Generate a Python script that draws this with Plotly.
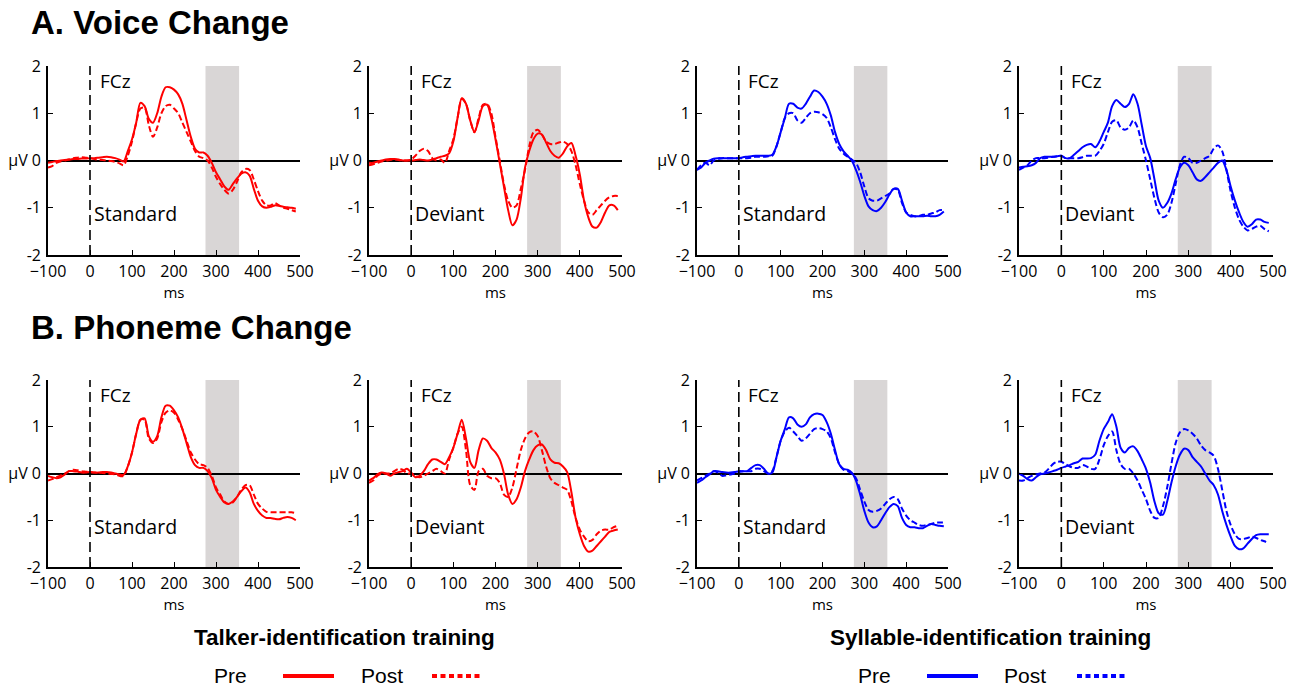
import plotly.graph_objects as go

# ---------------- data ----------------
TIME = list(range(-100, 500, 10))  # ms
SHADE_WINDOW = [275, 355]
X_TICKS = [-100, 0, 100, 200, 300, 400, 500]
Y_TICKS = [-2, -1, 0, 1, 2]
Y_TICK_TEXT = ["-2", "-1", "μV 0", "1", "2"]

# A. Voice change / Talker-identification training / Standard
VT_STD_PRE = [-0.05,-0.03,-0.01,0.0,0.01,0.02,0.03,0.03,0.04,0.04,
              0.05,0.05,0.06,0.07,0.08,0.07,0.05,0.02,-0.02,0.2,
              0.45,0.8,1.22,1.15,0.88,0.8,1.0,1.35,1.55,1.55,
              1.5,1.4,1.2,0.85,0.5,0.25,0.17,0.17,0.1,-0.05,
              -0.25,-0.4,-0.55,-0.62,-0.5,-0.38,-0.28,-0.25,-0.32,-0.6,
              -0.85,-0.97,-1.0,-0.98,-0.95,-0.96,-0.98,-0.99,-1.0,-1.02]
VT_STD_POST = [-0.15,-0.12,-0.05,-0.02,0.0,0.02,0.05,0.06,0.07,0.06,
               0.05,0.03,0.02,0.01,0.0,-0.01,-0.03,-0.06,-0.1,0.1,
               0.4,0.8,1.1,1.12,0.75,0.5,0.7,1.0,1.15,1.18,
               1.1,1.0,0.8,0.6,0.4,0.2,0.08,0.05,0.0,-0.15,
               -0.35,-0.5,-0.62,-0.7,-0.62,-0.45,-0.25,-0.18,-0.2,-0.4,
               -0.65,-0.85,-0.95,-0.95,-0.9,-0.95,-1.0,-1.02,-1.05,-1.08]
# A. Voice change / Talker / Deviant
VT_DEV_PRE = [-0.05,-0.05,-0.02,0.0,0.02,0.03,0.03,0.02,0.0,0.0,
              0.0,0.01,0.02,0.01,0.0,0.02,0.05,0.08,0.1,0.15,
              0.4,0.9,1.32,1.2,0.85,0.6,0.85,1.15,1.18,0.9,
              0.45,-0.05,-0.55,-1.05,-1.37,-1.25,-0.8,-0.15,0.2,0.45,
              0.57,0.55,0.38,0.2,0.1,0.06,0.15,0.3,0.37,0.1,
              -0.3,-0.85,-1.2,-1.4,-1.42,-1.3,-1.1,-0.95,-0.95,-1.05]
VT_DEV_POST = [-0.1,-0.08,-0.05,-0.02,0.0,0.01,0.02,0.01,0.0,0.0,
               0.02,0.1,0.2,0.25,0.2,0.05,0.0,0.02,-0.05,0.2,
               0.45,0.9,1.3,1.2,0.85,0.6,0.9,1.18,1.2,1.0,
               0.5,0.0,-0.5,-0.85,-1.0,-0.95,-0.6,-0.2,0.3,0.6,
               0.65,0.55,0.4,0.35,0.35,0.38,0.4,0.35,0.2,-0.1,
               -0.5,-0.85,-1.1,-1.15,-1.05,-0.95,-0.85,-0.78,-0.75,-0.75]
# A. Voice change / Syllable-identification training / Standard
VS_STD_PRE = [-0.2,-0.15,-0.05,0.0,0.04,0.05,0.05,0.05,0.05,0.05,
              0.05,0.07,0.08,0.09,0.1,0.1,0.1,0.1,0.12,0.3,
              0.6,0.9,1.2,1.2,1.12,1.1,1.2,1.35,1.48,1.45,
              1.35,1.2,0.95,0.6,0.35,0.2,0.1,0.0,-0.2,-0.45,
              -0.75,-0.97,-1.05,-1.07,-1.0,-0.88,-0.72,-0.6,-0.6,-0.85,
              -1.1,-1.18,-1.18,-1.18,-1.18,-1.17,-1.18,-1.18,-1.15,-1.08]
VS_STD_POST = [-0.2,-0.1,-0.05,-0.1,0.0,0.03,0.05,0.05,0.05,0.05,
               0.05,0.05,0.05,0.06,0.08,0.08,0.08,0.09,0.1,0.3,
               0.6,0.9,1.0,1.0,0.85,0.8,0.9,1.0,1.03,1.02,
               0.98,0.9,0.7,0.45,0.25,0.15,0.08,0.02,-0.05,-0.25,
               -0.55,-0.8,-0.85,-0.85,-0.8,-0.75,-0.7,-0.6,-0.62,-0.9,
               -1.1,-1.15,-1.18,-1.18,-1.15,-1.15,-1.12,-1.1,-1.05,-1.05]
# A. Voice change / Syllable / Deviant
VS_DEV_PRE = [-0.15,-0.13,-0.12,-0.1,-0.05,0.05,0.08,0.08,0.08,0.09,
              0.1,0.05,0.05,0.12,0.2,0.28,0.33,0.35,0.28,0.4,
              0.6,0.8,1.15,1.28,1.2,1.13,1.2,1.4,1.2,0.75,
              0.3,0.05,-0.4,-0.85,-1.0,-0.9,-0.7,-0.4,-0.15,-0.05,
              -0.1,-0.25,-0.4,-0.43,-0.35,-0.25,-0.15,-0.05,0.0,-0.2,
              -0.55,-0.85,-1.1,-1.3,-1.4,-1.35,-1.25,-1.25,-1.3,-1.32]
VS_DEV_POST = [-0.2,-0.15,-0.1,0.0,0.05,0.05,0.05,0.06,0.08,0.09,
               0.1,0.05,0.05,0.05,0.05,0.07,0.1,0.1,0.1,0.2,
               0.35,0.6,0.82,0.85,0.7,0.65,0.7,0.85,0.7,0.35,
               0.0,-0.4,-0.8,-1.1,-1.2,-1.15,-0.9,-0.5,-0.1,0.08,
               0.05,-0.05,-0.05,0.0,0.05,0.1,0.25,0.32,0.2,-0.2,
               -0.65,-1.0,-1.25,-1.4,-1.48,-1.45,-1.4,-1.38,-1.45,-1.5]
# B. Phoneme change / Talker / Standard
PT_STD_PRE = [-0.05,-0.08,-0.1,-0.08,-0.02,0.05,0.05,0.04,0.02,0.02,
              0.03,0.02,0.02,0.03,0.03,0.02,0.0,-0.02,-0.03,0.15,
              0.45,0.85,1.15,1.18,0.8,0.68,0.8,1.2,1.45,1.45,
              1.35,1.2,0.95,0.65,0.35,0.18,0.12,0.12,0.05,-0.1,
              -0.35,-0.5,-0.62,-0.65,-0.6,-0.5,-0.38,-0.3,-0.4,-0.65,
              -0.8,-0.9,-0.95,-0.95,-0.97,-0.98,-0.95,-0.93,-0.95,-1.0]
PT_STD_POST = [-0.15,-0.12,-0.08,-0.04,0.0,0.05,0.08,0.07,0.05,0.04,
               0.03,0.02,0.02,0.01,0.0,-0.01,-0.02,-0.05,-0.05,0.15,
               0.45,0.85,1.15,1.15,0.75,0.65,0.75,1.1,1.3,1.35,
               1.3,1.15,0.95,0.7,0.45,0.3,0.2,0.18,0.12,-0.05,
               -0.3,-0.45,-0.6,-0.65,-0.62,-0.5,-0.35,-0.25,-0.25,-0.45,
               -0.65,-0.75,-0.82,-0.83,-0.83,-0.83,-0.83,-0.83,-0.83,-0.85]
# B. Phoneme change / Talker / Deviant
PT_DEV_PRE = [-0.15,-0.1,-0.02,0.02,0.0,-0.05,0.0,0.03,0.05,0.1,
              0.02,-0.08,-0.05,0.05,0.2,0.3,0.3,0.25,0.2,0.35,
              0.55,0.85,1.15,0.75,0.25,0.12,0.5,0.75,0.7,0.55,
              0.45,0.3,0.0,-0.45,-0.65,-0.55,-0.3,0.05,0.3,0.5,
              0.6,0.62,0.5,0.3,0.23,0.22,0.15,0.03,-0.4,-0.95,
              -1.3,-1.55,-1.67,-1.65,-1.55,-1.45,-1.35,-1.25,-1.22,-1.2]
PT_DEV_POST = [-0.2,-0.15,-0.05,0.0,0.0,0.0,0.05,0.1,0.08,0.0,
               0.0,-0.05,-0.08,-0.05,0.0,0.05,0.1,0.05,0.0,0.3,
               0.55,0.85,1.0,0.5,-0.25,-0.35,0.05,0.1,-0.05,-0.1,
               -0.1,-0.2,-0.45,-0.5,-0.3,0.1,0.5,0.75,0.88,0.9,
               0.8,0.5,0.15,-0.1,-0.2,-0.25,-0.3,-0.35,-0.6,-0.95,
               -1.2,-1.35,-1.45,-1.42,-1.3,-1.22,-1.2,-1.2,-1.15,-1.12]
# B. Phoneme change / Syllable / Standard
PS_STD_PRE = [-0.2,-0.15,-0.08,-0.02,0.05,0.05,0.03,0.02,0.02,0.03,
              0.05,0.05,0.05,0.12,0.18,0.18,0.1,0.0,0.02,0.35,
              0.7,0.95,1.2,1.18,1.05,1.0,1.05,1.2,1.27,1.28,
              1.25,1.1,0.85,0.5,0.2,0.1,0.08,0.02,-0.15,-0.45,
              -0.8,-1.05,-1.15,-1.13,-1.0,-0.85,-0.72,-0.65,-0.7,-0.95,
              -1.1,-1.15,-1.15,-1.17,-1.17,-1.12,-1.08,-1.1,-1.12,-1.13]
PS_STD_POST = [-0.15,-0.1,-0.05,0.0,0.05,0.02,-0.05,-0.04,-0.02,0.0,
               0.03,0.05,0.05,0.05,0.1,0.1,0.05,0.0,0.05,0.35,
               0.7,0.9,0.98,0.9,0.8,0.7,0.75,0.85,0.95,0.97,
               0.95,0.9,0.75,0.45,0.2,0.08,0.05,0.0,-0.1,-0.35,
               -0.6,-0.78,-0.82,-0.8,-0.75,-0.65,-0.55,-0.5,-0.55,-0.75,
               -0.9,-1.0,-1.05,-1.1,-1.12,-1.1,-1.08,-1.05,-1.05,-1.05]
# B. Phoneme change / Syllable / Deviant
PS_DEV_PRE = [0.0,-0.05,-0.12,-0.15,-0.08,-0.02,0.0,0.02,0.05,0.08,
              0.12,0.15,0.18,0.22,0.25,0.32,0.32,0.33,0.4,0.7,
              0.95,1.1,1.27,1.0,0.55,0.45,0.55,0.58,0.48,0.3,
              0.1,-0.2,-0.6,-0.85,-0.88,-0.6,-0.2,0.15,0.4,0.53,
              0.5,0.35,0.25,0.15,0.0,-0.15,-0.25,-0.45,-0.8,-1.1,
              -1.35,-1.55,-1.62,-1.6,-1.5,-1.4,-1.32,-1.3,-1.3,-1.3]
PS_DEV_POST = [-0.15,-0.15,-0.1,-0.05,-0.02,0.0,0.02,0.1,0.2,0.25,
               0.25,0.2,0.15,0.12,0.12,0.18,0.15,0.1,0.1,0.3,
               0.6,0.8,0.9,0.5,0.2,0.1,0.1,0.0,-0.15,-0.35,
               -0.55,-0.8,-0.95,-0.95,-0.7,-0.3,0.2,0.65,0.88,0.95,
               0.92,0.85,0.75,0.6,0.5,0.45,0.38,0.1,-0.35,-0.8,
               -1.1,-1.3,-1.4,-1.4,-1.38,-1.35,-1.38,-1.42,-1.45,-1.5]

# ---------------- layout helpers ----------------
W, H = 1300, 687
RED, BLUE = "#ff0000", "#0000ff"
FONT = "Open Sans, DejaVu Sans, sans-serif"
TITLE_FONT = "Liberation Sans, Arial, sans-serif"

COLS_PX = [(48, 300), (369, 622), (697, 948), (1019, 1273)]
ROWS_PX = [(66, 255), (380, 567)]

panels = [
    (0, 0, VT_STD_PRE, VT_STD_POST, RED, "Standard"),
    (0, 1, VT_DEV_PRE, VT_DEV_POST, RED, "Deviant"),
    (0, 2, VS_STD_PRE, VS_STD_POST, BLUE, "Standard"),
    (0, 3, VS_DEV_PRE, VS_DEV_POST, BLUE, "Deviant"),
    (1, 0, PT_STD_PRE, PT_STD_POST, RED, "Standard"),
    (1, 1, PT_DEV_PRE, PT_DEV_POST, RED, "Deviant"),
    (1, 2, PS_STD_PRE, PS_STD_POST, BLUE, "Standard"),
    (1, 3, PS_DEV_PRE, PS_DEV_POST, BLUE, "Deviant"),
]

fig = go.Figure()
shapes, annotations = [], []

for i, (r, c, pre, post, color, label) in enumerate(panels):
    n = i + 1
    xa = "x" if n == 1 else f"x{n}"
    ya = "y" if n == 1 else f"y{n}"
    xd = [COLS_PX[c][0] / W, COLS_PX[c][1] / W]
    yd = [1 - ROWS_PX[r][1] / H, 1 - ROWS_PX[r][0] / H]
    axis_common = dict(showline=True, linecolor="black", linewidth=1.6, automargin=False,
                       ticks="inside", ticklen=5, tickwidth=1.3, tickcolor="black",
                       showgrid=False, tickfont=dict(family=FONT, size=16, color="black"))
    fig.update_layout(**{
        ("xaxis" if n == 1 else f"xaxis{n}"): dict(
            domain=xd, range=[-100, 500], anchor=ya, tickvals=X_TICKS,
            zeroline=False, ticklabelstandoff=1,
            title=dict(text="ms", standoff=0,
                       font=dict(family=FONT, size=15, color="black")),
            **axis_common),
        ("yaxis" if n == 1 else f"yaxis{n}"): dict(
            domain=yd, range=[-2, 2], anchor=xa, tickvals=Y_TICKS, ticktext=Y_TICK_TEXT,
            zeroline=True, zerolinecolor="black", zerolinewidth=1.8, ticklabelstandoff=2,
            **axis_common),
    })
    # shaded analysis window
    shapes.append(dict(type="rect", xref=xa, yref=ya, x0=SHADE_WINDOW[0], x1=SHADE_WINDOW[1],
                       y0=-2, y1=2, fillcolor="#d9d6d6", line=dict(width=0), layer="below"))
    # stimulus onset
    shapes.append(dict(type="line", xref=xa, yref=ya, x0=0, x1=0, y0=-2, y1=2,
                       line=dict(color="black", width=1.6, dash="10px,5px")))
    fig.add_trace(go.Scatter(x=TIME, y=pre, xaxis=xa, yaxis=ya, mode="lines",
                             line=dict(color=color, width=2, shape="spline", smoothing=0.8),
                             showlegend=False))
    fig.add_trace(go.Scatter(x=TIME, y=post, xaxis=xa, yaxis=ya, mode="lines",
                             line=dict(color=color, width=2, dash="6px,3px",
                                       shape="spline", smoothing=0.8),
                             showlegend=False))
    annotations.append(dict(xref=xa, yref=ya, x=18, y=1.68, text="FCz", showarrow=False,
                            xanchor="left", yanchor="middle",
                            font=dict(family=FONT, size=19, color="black")))
    annotations.append(dict(xref=xa, yref=ya, x=5, y=-1.13, text=label, showarrow=False,
                            xanchor="left", yanchor="middle",
                            font=dict(family=FONT, size=19.5, color="black")))

# section titles
annotations.append(dict(xref="paper", yref="paper", x=29 / W, y=1 - 22 / H, text="<b>A. Voice Change</b>",
                        showarrow=False, xanchor="left", yanchor="middle",
                        font=dict(family=TITLE_FONT, size=33, color="black")))
annotations.append(dict(xref="paper", yref="paper", x=29 / W, y=1 - 328 / H, text="<b>B. Phoneme Change</b>",
                        showarrow=False, xanchor="left", yanchor="middle",
                        font=dict(family=TITLE_FONT, size=33, color="black")))

# training group captions and key
GROUPS = [("Talker-identification training", RED, 344, 230, (283, 334), 382, (432, 483)),
          ("Syllable-identification training", BLUE, 990, 874, (927, 978), 1025, (1077, 1127))]
for text, color, cx, pre_x, line_px, post_x, dash_px in GROUPS:
    annotations.append(dict(xref="paper", yref="paper", x=cx / W, y=1 - 637 / H, text=f"<b>{text}</b>",
                            showarrow=False, xanchor="center", yanchor="middle",
                            font=dict(family=TITLE_FONT, size=22.5, color="black")))
    annotations.append(dict(xref="paper", yref="paper", x=pre_x / W, y=1 - 675 / H, text="Pre",
                            showarrow=False, xanchor="center", yanchor="middle",
                            font=dict(family=TITLE_FONT, size=21, color="black")))
    annotations.append(dict(xref="paper", yref="paper", x=post_x / W, y=1 - 675 / H, text="Post",
                            showarrow=False, xanchor="center", yanchor="middle",
                            font=dict(family=TITLE_FONT, size=21, color="black")))
    shapes.append(dict(type="line", xref="paper", yref="paper", x0=line_px[0] / W, x1=line_px[1] / W,
                       y0=1 - 676 / H, y1=1 - 676 / H, line=dict(color=color, width=4)))
    shapes.append(dict(type="line", xref="paper", yref="paper", x0=dash_px[0] / W, x1=dash_px[1] / W,
                       y0=1 - 676 / H, y1=1 - 676 / H, line=dict(color=color, width=4, dash="5px,3.5px")))

fig.update_layout(width=W, height=H, margin=dict(l=0, r=0, t=0, b=0),
                  paper_bgcolor="white", plot_bgcolor="rgba(0,0,0,0)",
                  shapes=shapes, annotations=annotations, showlegend=False)

fig.write_html("out.html", config={"displayModeBar": False},
               post_script="document.body.style.margin='0';document.body.style.padding='0';"
                           "document.documentElement.style.overflow='hidden';")
